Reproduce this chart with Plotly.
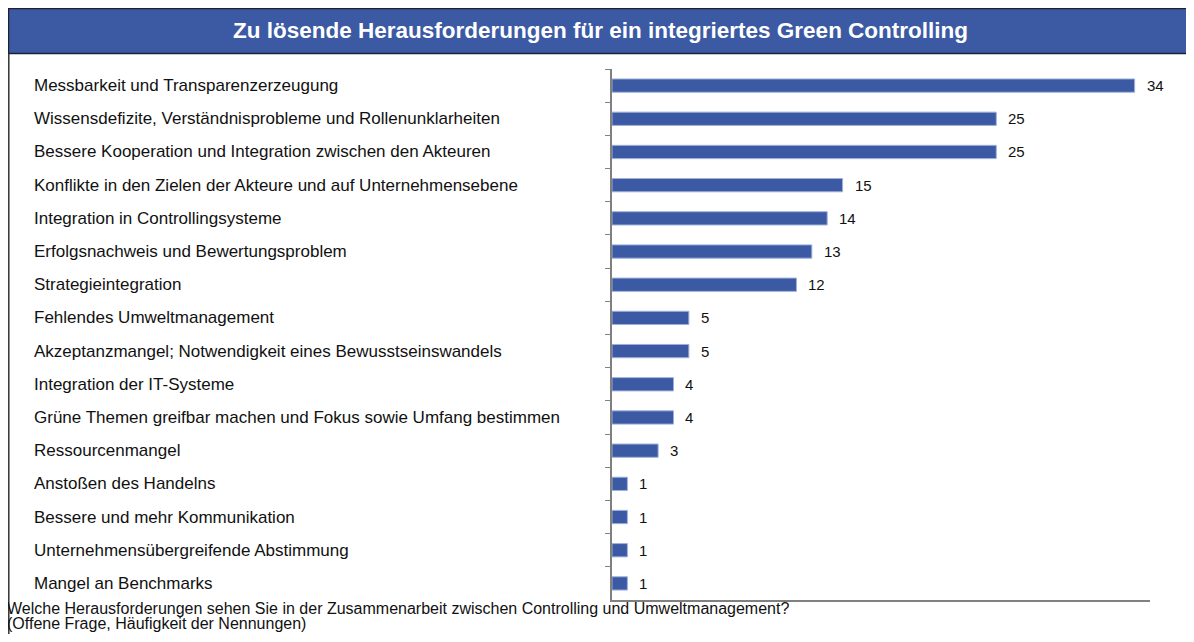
import plotly.graph_objects as go

kategorien = [
    "Messbarkeit und Transparenzerzeugung",
    "Wissensdefizite, Verständnisprobleme und Rollenunklarheiten",
    "Bessere Kooperation und Integration zwischen den Akteuren",
    "Konflikte in den Zielen der Akteure und auf Unternehmensebene",
    "Integration in Controllingsysteme",
    "Erfolgsnachweis und Bewertungsproblem",
    "Strategieintegration",
    "Fehlendes Umweltmanagement",
    "Akzeptanzmangel; Notwendigkeit eines Bewusstseinswandels",
    "Integration der IT-Systeme",
    "Grüne Themen greifbar machen und Fokus sowie Umfang bestimmen",
    "Ressourcenmangel",
    "Anstoßen des Handelns",
    "Bessere und mehr Kommunikation",
    "Unternehmensübergreifende Abstimmung",
    "Mangel an Benchmarks",
]
nennungen = [34, 25, 25, 15, 14, 13, 12, 5, 5, 4, 4, 3, 1, 1, 1, 1]

titel = "Zu lösende Herausforderungen für ein integriertes Green Controlling"
fussnote_1 = "Welche Herausforderungen sehen Sie in der Zusammenarbeit zwischen Controlling und Umweltmanagement?"
fussnote_2 = "(Offene Frage, Häufigkeit der Nennungen)"

# Figur sitzt mit 8px Seitenrand im Fenster
W, H = 1178, 626
ML, MR, MT, MB = 604, 36, 61, 34
PW, PH = W - ML - MR, H - MT - MB

blau = "#3B5AA3"
schrift = "Liberation Sans, Arial, sans-serif"


def px_x(px):
    return (px - ML) / PW


def px_y(py):
    return (H - MB - py) / PH


fig = go.Figure()
fig.add_trace(
    go.Bar(
        x=nennungen,
        y=kategorien,
        orientation="h",
        marker=dict(color=blau, line=dict(color="#9fb0d9", width=1)),
        hoverinfo="x+y",
    )
)

anmerkungen = []
for kat, wert in zip(kategorien, nennungen):
    # Wert rechts neben dem Balken
    anmerkungen.append(dict(
        x=wert, y=kat, xref="x", yref="y", text=str(wert), showarrow=False,
        xanchor="left", xshift=10, font=dict(size=15, color="#111111", family=schrift),
    ))
    # Kategorie links, linksbuendig
    anmerkungen.append(dict(
        x=px_x(24), y=kat, xref="paper", yref="y", text=kat, showarrow=False,
        xanchor="left", font=dict(size=17, color="#111111", family=schrift),
    ))

anmerkungen.append(dict(
    x=px_x(592), y=px_y(23), xref="paper", yref="paper", text="<b>" + titel + "</b>",
    showarrow=False, xanchor="center", yanchor="middle",
    font=dict(size=22.5, color="white", family=schrift),
))
for txt, yy in [(fussnote_1, 600), (fussnote_2, 615)]:
    anmerkungen.append(dict(
        x=px_x(-3), y=px_y(yy), xref="paper", yref="paper", text=txt,
        showarrow=False, xanchor="left", yanchor="middle", align="left",
        font=dict(size=16, color="#111111", family=schrift),
    ))

formen = [
    dict(type="rect", xref="paper", yref="paper",
         x0=px_x(0.5), x1=px_x(1200), y0=px_y(45.5), y1=px_y(0.5),
         fillcolor=blau, line=dict(color="#1c2233", width=1.5), layer="above"),
    dict(type="line", xref="paper", yref="paper",
         x0=px_x(0.8), x1=px_x(0.8), y0=px_y(46), y1=px_y(640),
         line=dict(color="#333333", width=1.5)),
]

fig.update_layout(
    width=W, height=H,
    margin=dict(l=ML, r=MR, t=MT, b=MB),
    paper_bgcolor="white",
    plot_bgcolor="white",
    showlegend=False,
    bargap=0.6,
    annotations=anmerkungen,
    shapes=formen,
    font=dict(family=schrift),
    xaxis=dict(range=[0, 35], showgrid=False, zeroline=False, showticklabels=False,
               showline=True, linecolor="#808080", linewidth=2, ticks=""),
    yaxis=dict(autorange="reversed", showgrid=False, showticklabels=False,
               showline=True, linecolor="#808080", linewidth=2,
               ticks="outside", tickson="boundaries", ticklen=5, tickcolor="#808080", tickwidth=1),
)

fig.write_html("out.html")
